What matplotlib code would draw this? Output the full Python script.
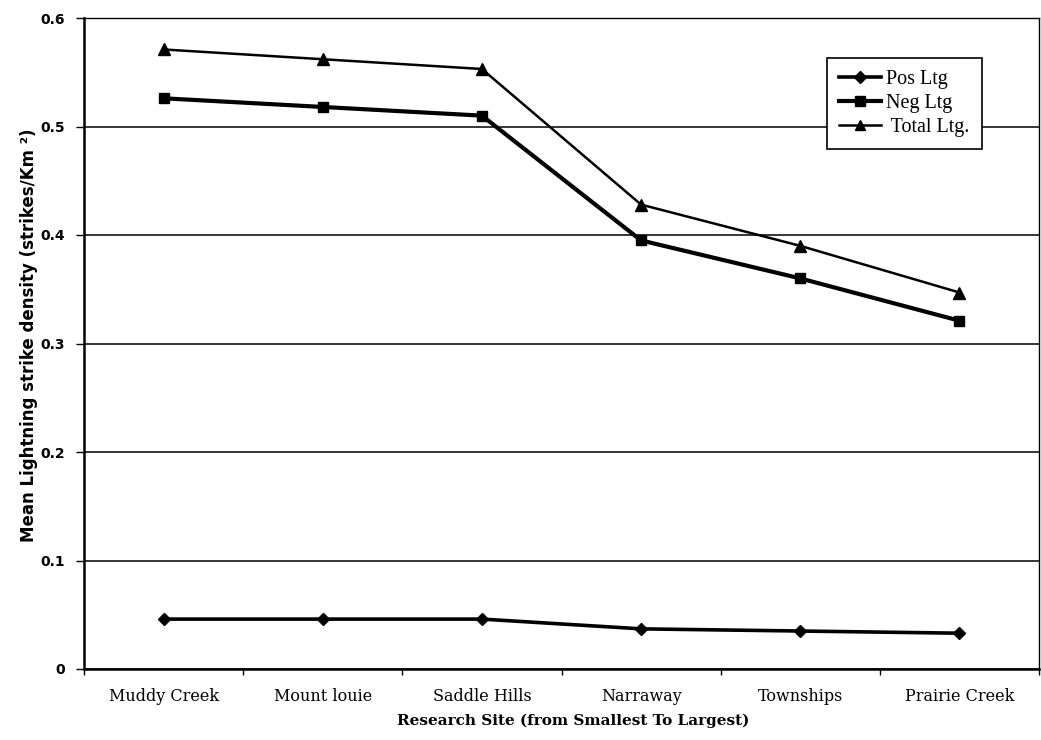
import matplotlib
matplotlib.use("Agg")
import matplotlib.pyplot as plt
from matplotlib.ticker import FixedLocator, NullFormatter

sites = ["Muddy Creek", "Mount louie", "Saddle Hills", "Narraway", "Townships", "Prairie Creek"]
pos_ltg = [0.046, 0.046, 0.046, 0.037, 0.035, 0.033]
neg_ltg = [0.526, 0.518, 0.510, 0.395, 0.360, 0.321]
total_ltg = [0.571, 0.562, 0.553, 0.428, 0.390, 0.347]
yticks = [0, 0.1, 0.2, 0.3, 0.4, 0.5, 0.6]
ytick_labels = ["0", "0.1", "0.2", "0.3", "0.4", "0.5", "0.6"]
series_labels = ["Pos Ltg", "Neg Ltg", " Total Ltg."]

serif = ["DejaVu Serif"]
times = ["Liberation Serif", "DejaVu Serif"]
sans = ["DejaVu Sans"]

fig = plt.figure(figsize=(10.41, 7.40), dpi=100)
ax = fig.add_axes([84/1041, 1 - 669/740, (1039-84)/1041, (669-18)/740])

x = list(range(len(sites)))
ax.plot(x, pos_ltg, color="black", lw=2.6, marker="D", ms=6.5, label=series_labels[0], zorder=3)
ax.plot(x, neg_ltg, color="black", lw=3.0, marker="s", ms=7.5, label=series_labels[1], zorder=3)
ax.plot(x, total_ltg, color="black", lw=1.8, marker="^", ms=8.5, label=series_labels[2], zorder=3)

ax.set_xlim(-0.5, len(sites) - 0.5)
ax.set_ylim(0, 0.6)
ax.set_yticks(yticks)
ax.set_yticklabels(ytick_labels, fontfamily=sans, fontsize=10, fontweight="bold")
ax.yaxis.grid(True, color="black", lw=1.1)
ax.set_axisbelow(True)

ax.set_xticks(x)
ax.set_xticklabels(sites, fontfamily=serif, fontsize=11.5)
ax.tick_params(axis="x", which="major", length=0, pad=14)
ax.xaxis.set_minor_locator(FixedLocator([i - 0.5 for i in range(len(sites) + 1)]))
ax.xaxis.set_minor_formatter(NullFormatter())
ax.tick_params(axis="x", which="minor", length=4, width=1, direction="out")
ax.tick_params(axis="y", length=6, width=1, direction="out", pad=8)

for s in ax.spines.values():
    s.set_color("black")
    s.set_linewidth(1.0)
ax.spines["left"].set_linewidth(1.8)
ax.spines["bottom"].set_linewidth(1.8)

ax.set_xlabel("Research Site (from Smallest To Largest)", fontfamily=serif,
              fontsize=11, fontweight="bold", labelpad=8)
ax.xaxis.set_label_coords(0.512, -0.068)
ax.set_ylabel("Mean Lightning strike density (strikes/Km \u00b2)", fontfamily=sans,
              fontsize=12, fontweight="bold", labelpad=7)
ax.yaxis.set_label_coords(-0.048, 0.513)

leg = ax.legend(loc="upper left", bbox_to_anchor=(0.778, 0.9386), borderaxespad=0,
                frameon=True, fancybox=False, edgecolor="black", framealpha=1,
                prop={"family": times, "size": 14.5}, handlelength=2.1,
                handletextpad=0.25, labelspacing=0.25, borderpad=0.6, markerscale=0.9)
leg.get_frame().set_linewidth(1.2)

fig.savefig("out.png", dpi=100, facecolor="white")
